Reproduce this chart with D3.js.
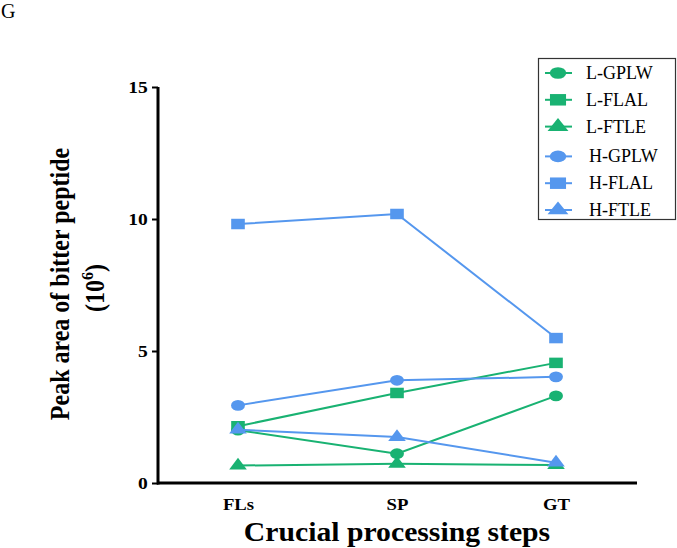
<!DOCTYPE html>
<html>
<head>
<meta charset="utf-8">
<script src="https://cdn.jsdelivr.net/npm/d3@7"></script>
<style>
  body { margin: 0; background: #fff; }
  text { font-family: "Liberation Serif", "Times New Roman", serif; }
</style>
</head>
<body>
<div id="chart"></div>
<script>
// categories and series values (peak area, 10^6)
const steps = ['FLs', 'SP', 'GT'];
const seriesNames = ['L-GPLW', 'L-FLAL', 'L-FTLE', 'H-GPLW', 'H-FLAL', 'H-FTLE'];
const lGPLW = [2.0, 1.11, 3.30];
const lFLAL = [2.15, 3.41, 4.55];
const lFTLE = [0.66, 0.73, 0.68];
const hGPLW = [2.94, 3.89, 4.02];
const hFLAL = [9.81, 10.19, 5.49];
const hFTLE = [2.02, 1.74, 0.77];
const yTicks = [0, 5, 10, 15];

const green = '#19b272';
const blue = '#5597ee';

const series = [
    { name: seriesNames[0], values: lGPLW, color: green, shape: 'circle' },
    { name: seriesNames[1], values: lFLAL, color: green, shape: 'square' },
    { name: seriesNames[2], values: lFTLE, color: green, shape: 'triangle' },
    { name: seriesNames[3], values: hGPLW, color: blue, shape: 'circle' },
    { name: seriesNames[4], values: hFLAL, color: blue, shape: 'square' },
    { name: seriesNames[5], values: hFTLE, color: blue, shape: 'triangle' }
];

const width = 677, height = 548;
const svg = d3.select('#chart').append('svg')
    .attr('width', width)
    .attr('height', height);

// scales
const x = d3.scalePoint()
    .domain(steps)
    .range([238, 556]);
const y = d3.scaleLinear()
    .domain([0, 15])
    .range([483, 87]);

// markers are a bit wider than tall in the original
function symbolFor(shape, k = 1) {
    if (shape === 'circle') return d3.symbol().type(d3.symbolCircle).size(90 * k);
    if (shape === 'square') return d3.symbol().type(d3.symbolSquare).size(110 * k);
    return d3.symbol().type(d3.symbolTriangle).size(80 * k);
}

// panel letter
svg.append('text')
    .attr('x', 1).attr('y', 18)
    .style('font-size', '20px')
    .text('G');

// y axis
const yAxis = svg.append('g')
    .attr('transform', 'translate(158,0)')
    .call(d3.axisLeft(y).tickValues(yTicks).tickSize(6).tickPadding(2));
yAxis.select('.domain').attr('stroke', '#000').attr('stroke-width', 3)
    .attr('d', `M0,${y(15)}V${y(0) + 1.5}`);
yAxis.selectAll('.tick line').attr('stroke', '#000').attr('stroke-width', 2);
yAxis.selectAll('.tick text')
    .style('font-size', '17px').style('font-weight', 'bold')
    .style('font-family', '"Liberation Serif", serif').attr('fill', '#000')
    .attr('transform', 'translate(-1,0) scale(1.15,1)');

// x axis
const xAxis = svg.append('g')
    .attr('transform', `translate(0,${y(0)})`)
    .call(d3.axisBottom(x).tickSize(0).tickPadding(15));
xAxis.select('.domain').attr('stroke', '#000').attr('stroke-width', 3)
    .attr('d', 'M157,0H637');
xAxis.selectAll('.tick text')
    .style('font-size', '17px').style('font-weight', 'bold')
    .style('font-family', '"Liberation Serif", serif').attr('fill', '#000')
    .attr('transform', 'scale(1.1,1)');

// axis titles
svg.append('text')
    .attr('transform', 'translate(397,541) scale(1.1,1)')
    .attr('text-anchor', 'middle')
    .style('font-size', '27px').style('font-weight', 'bold')
    .text('Crucial processing steps');

const yTitle = svg.append('text')
    .attr('transform', 'translate(69,284) scale(1.1,1) rotate(-90)')
    .attr('text-anchor', 'middle')
    .style('font-size', '24px').style('font-weight', 'bold');
yTitle.append('tspan').attr('x', 0).attr('y', 0).text('Peak area of bitter peptide');
yTitle.append('tspan').attr('x', -4).attr('y', 32).text('(10');
yTitle.append('tspan').attr('dy', -10).style('font-size', '16px').text('6');
yTitle.append('tspan').attr('dy', 10).text(')');

// lines and markers
const line = d3.line()
    .x((d, i) => x(steps[i]))
    .y(d => y(d));

const groups = svg.append('g').selectAll('g')
    .data(series)
    .join('g');

groups.append('path')
    .attr('d', d => line(d.values))
    .attr('fill', 'none')
    .attr('stroke', d => d.color)
    .attr('stroke-width', 2);

groups.each(function (s) {
    d3.select(this).selectAll('path.mark')
        .data(s.values)
        .join('path')
        .attr('class', 'mark')
        .attr('transform', (d, i) => `translate(${x(steps[i])},${y(d)}) scale(1.3,1)`)
        .attr('d', symbolFor(s.shape)())
        .attr('fill', s.color);
});

// legend
const legend = svg.append('g');
legend.append('rect')
    .attr('x', 538.5).attr('y', 58.5)
    .attr('width', 137).attr('height', 161)
    .attr('fill', '#fff')
    .attr('stroke', '#333').attr('stroke-width', 1.2);

const legendY = d3.scalePoint()
    .domain(seriesNames)
    .range([73, 207]);

const items = legend.selectAll('g.item')
    .data(series)
    .join('g')
    .attr('class', 'item')
    .attr('transform', d => `translate(0,${legendY(d.name) + (d.name[0] === 'H' ? 3 : 0)})`);

items.append('line')
    .attr('x1', 545).attr('x2', 572)
    .attr('stroke', d => d.color).attr('stroke-width', 2);
items.append('path')
    .attr('transform', 'translate(558,0) scale(1.4,1)')
    .attr('d', d => symbolFor(d.shape, 1.2)())
    .attr('fill', d => d.color);
items.append('text')
    .attr('x', d => d.name[0] === 'H' ? 589 : 586)
    .attr('y', 6)
    .style('font-size', '18px')
    .text(d => d.name);
</script>
</body>
</html>
